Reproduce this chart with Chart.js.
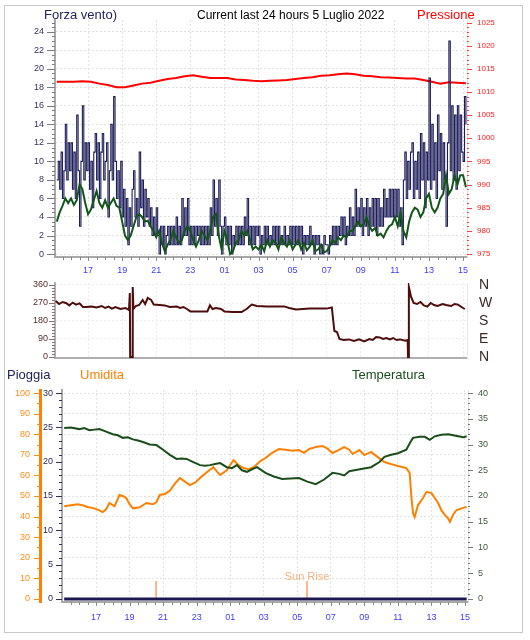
<!DOCTYPE html>
<html>
<head>
<meta charset="utf-8">
<script src="https://cdn.jsdelivr.net/npm/chart.js@4"></script>
<style>
body { margin: 0; background: #fff; font-family: "Liberation Sans", Arial, sans-serif; }
#wrap { position: relative; width: 530px; height: 640px; }
#frame { position: absolute; left: 4px; top: 5px; width: 517px; height: 626px; border: 1px solid #c8c8c8; }
canvas { position: absolute; left: 0; }
.lbl { position: absolute; white-space: nowrap; font-size: 13px; line-height: 15px; z-index: 2; }
</style>
</head>
<body>
<div id="wrap">
  <div id="frame"></div>
  <canvas id="c1" width="530" height="276" style="top:0"></canvas>
  <canvas id="c2" width="530" height="90" style="top:276px"></canvas>
  <canvas id="c3" width="530" height="250" style="top:380px"></canvas>
  <div class="lbl" style="left:44px;top:7px;color:#1e1e5a">Forza vento)</div>
  <div class="lbl" style="left:197px;top:8px;color:#000;font-size:12px">Current last 24 hours 5 Luglio 2022</div>
  <div class="lbl" style="left:417px;top:7px;color:#ff0000">Pressione</div>
  <div class="lbl" style="left:7px;top:367px;color:#1e1e5a">Pioggia</div>
  <div class="lbl" style="left:80px;top:367px;color:#ff8000">Umidita</div>
  <div class="lbl" style="left:352px;top:367px;color:#1a4d1a">Temperatura</div>
</div>
<script>
// hours are counted from midnight of 4 July (25 = 01 of 5 July)
const hourTicks = [17, 19, 21, 23, 25, 27, 29, 31, 33, 35, 37, 39];

// wind gusts, one sample every 5 minutes from 15:10
const gustStart = 15 + 10 / 60;
const gustStep = 5 / 60;
const gust = [
    8, 10, 7, 11, 6, 9, 14, 8, 12, 9,
    12, 7, 11, 6, 15, 9, 3, 10, 16, 8, 12, 9,
    12, 7, 10, 5, 11, 13, 8, 12, 6, 11, 13, 8,
    10, 12, 4, 9, 14, 8, 17, 10, 6, 9, 5, 10,
    4, 7, 3, 6, 1, 5, 3, 7, 9, 4, 6, 3,
    11, 5, 8, 3, 7, 4, 6, 3, 5, 2, 4, 2,
    5, 2, 0, 3, 1, 3, 0, 2, 3, 1, 3, 1,
    3, 1, 4, 1, 3, 1, 6, 2, 5, 2, 6, 1,
    3, 1, 3, 1, 3, 2, 3, 1, 3, 1, 3, 1,
    3, 1, 5, 2, 8, 3, 6, 2, 8, 3, 0, 3,
    4, 1, 3, 1, 3, 0, 2, 1, 3, 1, 3, 1,
    3, 1, 4, 2, 6, 1, 3, 1, 3, 1, 3, 2,
    3, 0, 2, 1, 3, 1, 3, 1, 2, 1, 3, 1,
    3, 1, 3, 1, 2, 1, 3, 1, 2, 1, 3, 1,
    3, 1, 3, 1, 3, 1, 3, 0, 2, 1, 2, 1,
    3, 1, 2, 0, 2, 1, 2, 0, 1, 0, 2, 1,
    1, 0, 2, 1, 3, 1, 3, 1, 3, 2, 4, 2,
    4, 1, 3, 2, 5, 2, 4, 2, 7, 3, 5, 3,
    6, 2, 5, 3, 6, 2, 5, 3, 6, 3, 6, 2,
    6, 3, 5, 3, 7, 4, 6, 4, 7, 4, 7, 4,
    7, 4, 7, 3, 5, 1, 8, 11, 6, 10, 7, 11,
    12, 6, 10, 7, 11, 6, 13, 8, 12, 5, 11, 8,
    19, 7, 14, 8, 12, 6, 15, 9, 13, 7, 12, 8,
    3, 12, 23, 9, 16, 8, 15, 7, 16, 9, 15, 11,
    10, 17, 14
];

// average wind, every 10 minutes from 15:10
const avgStart = 15 + 10 / 60;
const avgStep = 10 / 60;
const avgWind = [
    3.5, 4.5, 5.2, 6, 5.5,
    6, 5.3, 5.8, 7.5, 7, 5.5,
    4.3, 4.8, 5.8, 6.8, 5.5, 5,
    5.8, 5, 5.5, 6, 5.2, 5,
    3.5, 2, 1.5, 2, 3, 4,
    4.3, 4, 3.5, 3.6, 3, 2.5,
    1.8, 2.5, 1.2, 0.3, 1, 1.5,
    2.5, 1.8, 1.2, 1.5, 2.5, 3,
    2.5, 1.5, 0.8, 1.5, 2.5, 2,
    1.5, 2.5, 4, 4.3, 2, 0.5,
    2.5, 1.5, 0, 0.3, 1.2, 1.5,
    2.5, 2, 2.5, 1.5, 0.5, 0.8,
    0.5, 1, 0.3, 1.5, 0.8, 1.5,
    1.2, 0.5, 1.8, 1.2, 0.8, 1.5,
    0.5, 1, 1.5, 0.5, 1.2, 0.4,
    0.8, 1.5, 0.3, 0.5, 1, 0.2,
    0.3, 0.8, 1.5, 1.2, 1.8, 1.5,
    2, 1.8, 2.5, 2.5, 3, 3.5,
    3, 3.2, 4, 3, 2.5, 2.8,
    2, 2.2, 1.8, 2.5, 3, 3.2,
    4, 3, 4.5, 2.5, 1.8, 3.5,
    4.5, 5, 4.8, 4, 4.5, 6,
    6.5, 5, 4.5, 5, 6, 6.5,
    8.5, 6.5, 7, 8.5, 7.5, 8.5,
    8.5, 7.2
];

// pressure, every 30 minutes from 15:10
const pressStart = 15 + 10 / 60;
const pressStep = 0.5;
const pressure = [
    1012.2, 1012.2, 1012.2, 1012.3, 1012.2, 1011.8, 1011.5, 1011.0, 1011.0, 1011.4,
    1011.8, 1012.0, 1012.4, 1012.8, 1013.0, 1013.4, 1013.6, 1013.3, 1013.0, 1013.0,
    1013.0, 1012.7, 1012.6, 1012.4, 1012.3, 1012.4, 1012.5, 1012.6, 1012.8, 1013.0,
    1013.2, 1013.5, 1013.6, 1013.8, 1014.0, 1013.8, 1013.5, 1013.4, 1013.2, 1013.1,
    1013.0, 1012.9, 1012.9, 1012.6, 1012.2, 1011.8, 1012.1, 1012.0, 1011.9
];

// wind direction
const dirTimes = [
    15.1, 15.3, 15.5, 15.7, 15.9, 16.1, 16.3, 16.5, 16.7, 16.9,
    17.2, 17.5, 17.8, 18.0, 18.2, 18.4, 18.6, 18.9, 19.2, 19.4,
    19.45, 19.47, 19.6, 19.62, 19.66, 19.8, 20.0, 20.2, 20.35, 20.5,
    20.7, 20.85, 21.2, 21.5, 21.8, 22.2, 22.4, 22.6, 22.8, 23.0,
    23.5, 24.0, 24.15, 24.3, 24.5, 24.8, 25.0, 25.5, 26.0, 26.3,
    26.6, 26.9, 27.5, 28.0, 28.5, 28.8, 29.2, 29.6, 30.0, 30.5,
    31.0, 31.3, 31.45, 31.6, 31.75, 32.0, 32.3, 32.6, 32.9, 33.2,
    33.5, 33.7, 33.9, 34.1, 34.3, 34.5, 34.7, 34.9, 35.1, 35.3,
    35.6, 35.75, 35.77, 35.82, 35.95, 36.1, 36.3, 36.5, 36.7, 36.9,
    37.1, 37.3, 37.5, 37.8, 38.0, 38.3, 38.5, 38.7, 39.0, 39.1
];
const dirValues = [
    280, 265, 275, 270, 258, 272, 262, 268, 250, 250,
    252, 248, 255, 245, 252, 242, 250, 240, 245, 235,
    320, 0, 0, 350, 240, 255, 260, 285, 265, 295,
    285, 262, 260, 258, 250, 252, 245, 250, 240, 228,
    228, 228, 258, 240, 245, 240, 228, 225, 225, 240,
    262, 255, 253, 253, 253, 245, 238, 240, 242, 242,
    242, 248, 130, 125, 90, 85, 88, 80, 88, 78,
    90, 85, 100, 98, 90, 95, 88, 95, 85, 88,
    82, 85, 0, 350, 300, 270, 265, 275, 258, 252,
    270, 260, 255, 265, 260, 255, 265, 262, 245, 240
];
const dirLetters = ['N', 'E', 'S', 'W', 'N'];

// temperature and humidity
const tempTimes = [
    15.1, 15.5, 16.0, 16.3, 16.6, 16.9, 17.2, 17.6, 18.0, 18.3,
    18.6, 18.9, 19.2, 19.5, 19.8, 20.2, 20.6, 21.0, 21.4, 21.8,
    22.1, 22.4, 22.8, 23.2, 23.5, 23.8, 24.1, 24.4, 24.8, 25.1,
    25.4, 25.7, 26.0, 26.3, 26.6, 27.1, 27.6, 28.1, 28.6, 29.1,
    29.6, 30.1, 30.6, 31.1, 31.5, 31.8, 32.1, 32.4, 32.9, 33.4,
    33.9, 34.2, 34.6, 35.0, 35.5, 35.75, 35.9, 36.3, 36.6, 36.9,
    37.2, 37.6, 38.0, 38.3, 38.6, 38.9, 39.1
];
const temperature = [
    33.2, 33.3, 33.0, 33.2, 32.8, 32.9, 33.0, 32.5, 32.0, 31.8,
    31.3, 31.4, 31.0, 30.8, 30.5, 30.0, 29.9, 29.0, 28.0, 27.2,
    27.3, 27.2, 26.6, 26.0, 25.9, 26.0, 26.2, 26.4, 25.6, 25.4,
    26.0, 25.0, 24.7, 25.2, 25.6, 24.5, 23.8, 23.3, 23.4, 23.5,
    22.8, 22.3, 23.2, 24.5, 24.3, 24.0, 24.8, 25.0, 25.3, 25.6,
    26.6, 27.6, 28.0, 28.3, 29.0, 30.5, 31.3, 31.5, 31.5, 30.9,
    31.6, 31.9, 32.0, 31.8, 31.6, 31.4, 31.6
];
const humTimes = [
    15.1, 15.5, 15.9, 16.2, 16.5, 16.9, 17.2, 17.4, 17.6, 17.8,
    18.1, 18.4, 18.6, 18.8, 19.0, 19.2, 19.6, 20.0, 20.4, 20.6,
    20.8, 21.1, 21.4, 21.7, 22.0, 22.3, 22.6, 22.9, 23.2, 23.6,
    24.0, 24.2, 24.4, 24.8, 25.2, 25.5, 25.8, 26.1, 26.4, 26.8,
    27.1, 27.5, 27.9, 28.3, 28.7, 29.1, 29.4, 29.7, 30.1, 30.5,
    30.8, 31.1, 31.4, 31.8, 32.1, 32.3, 32.7, 33.0, 33.4, 33.8,
    34.2, 34.6, 35.0, 35.5, 35.7, 35.8, 35.9, 36.0, 36.2, 36.5,
    36.7, 37.0, 37.2, 37.4, 37.6, 37.8, 38.0, 38.1, 38.3, 38.5,
    38.8, 39.1
];
const humidity = [
    45, 45.5, 46, 45.5, 44.7, 44, 43, 42.2, 43.5, 46.6,
    45, 50.5, 50, 49, 46, 44, 44.5, 46.6, 46, 47,
    50.5, 51, 52.5, 56, 58.7, 57, 55.3, 56.5, 58.7, 61.5,
    64, 62, 60.2, 62.5, 67.5, 65, 63.6, 63, 64, 67,
    68.4, 71, 72.8, 72.5, 72, 72.3, 71, 72.8, 73.8, 74.3,
    73, 70.9, 72, 73.8, 72.5, 70.4, 72.3, 69.9, 71.4, 68.9,
    66.5, 65.5, 64.6, 63.6, 61.2, 50, 41.7, 39.8, 45.6, 49,
    52, 51.4, 49, 46.6, 43, 40.8, 39, 37.4, 41, 43.2,
    44, 44.7
];

// rain (none) and sunset / sunrise marks
const rainTimes = [15.1, 17, 19, 21, 23, 25, 27, 29, 31, 33, 35, 37, 39.1];
const rain = [0, 0, 0, 0, 0, 0, 0, 0, 0, 0, 0, 0, 0];
const sunTimes = [20.58, 29.58];
const sunMarkHeight = 2.6;

function hourLabel(v) {
    const h = Math.round(v) % 24;
    return (h < 10 ? '0' : '') + h;
}

function plain(v) {
    return String(v);
}

function pairs(times, values) {
    return values.map((v, i) => ({ x: times[i], y: v }));
}

function stepSeries(start, step, values) {
    return values.map((v, i) => ({ x: start + i * step, y: v }));
}

function fixedTicks(list) {
    return s => { s.ticks = list.map(v => ({ value: v })); };
}

// fixed axis width, and no extra room kept for the end labels
function fitWidth(w) {
    return s => { s.width = w; s.paddingTop = 0; s.paddingBottom = 0; };
}

// small tick marks along the axes
const minorTicks = {
    id: 'minorTicks',
    afterDraw(chart, args, opts) {
        const ctx = chart.ctx;
        (opts.list || []).forEach(m => {
            const s = chart.scales[m.axis];
            const base = m.base || 0;
            ctx.save();
            ctx.strokeStyle = m.color;
            ctx.lineWidth = 1;
            ctx.beginPath();
            for (let v = m.from; v <= m.to + 1e-9; v += m.step) {
                const r = (v - base) / m.major;
                const len = Math.abs(r - Math.round(r)) < 1e-6 ? m.majorLen : m.minorLen;
                const p = Math.round(s.getPixelForValue(v)) + 0.5;
                if (s.isHorizontal()) {
                    ctx.moveTo(p, s.top);
                    ctx.lineTo(p, s.top + len);
                } else if (s.position === 'left') {
                    ctx.moveTo(s.right, p);
                    ctx.lineTo(s.right - len, p);
                } else {
                    ctx.moveTo(s.left, p);
                    ctx.lineTo(s.left + len, p);
                }
            }
            ctx.stroke();
            ctx.restore();
        });
    }
};

const tickFont = { family: 'Liberation Sans', size: 9 };
const gridStyle = { color: '#e2e2e2', drawTicks: false };

// top panel: wind speed and pressure
new Chart(document.getElementById('c1'), {
    type: 'line',
    data: {
        datasets: [
            { data: stepSeries(avgStart, avgStep, avgWind), yAxisID: 'y', borderColor: '#14551a', borderWidth: 2 },
            { data: stepSeries(gustStart, gustStep, gust), yAxisID: 'y', borderColor: '#1e1e5a', borderWidth: 1.1, stepped: true },
            { data: stepSeries(pressStart, pressStep, pressure), yAxisID: 'yP', borderColor: '#ff0000', borderWidth: 2 }
        ]
    },
    options: {
        responsive: false,
        animation: false,
        layout: { padding: { top: 20 } },
        elements: { point: { radius: 0 }, line: { tension: 0 } },
        plugins: {
            legend: { display: false },
            tooltip: { enabled: false },
            minorTicks: {
                list: [
                    { axis: 'y', from: 0, to: 25, step: 0.5, major: 2, majorLen: 8, minorLen: 3, color: '#7a7a8a' },
                    { axis: 'yP', from: 975, to: 1025, step: 1, major: 5, majorLen: 5, minorLen: 2, color: '#ff4040' },
                    { axis: 'x', from: 15.5, to: 39, step: 0.5, base: 17, major: 2, majorLen: 4, minorLen: 3, color: '#8a8a8a' }
                ]
            }
        },
        scales: {
            x: {
                type: 'linear', min: 15.06, max: 39.23,
                afterBuildTicks: fixedTicks(hourTicks),
                afterFit: s => { s.height = 19; },
                ticks: { callback: hourLabel, color: '#3c3cff', font: tickFont, padding: 8, maxRotation: 0, autoSkip: false },
                grid: gridStyle,
                border: { color: '#a8a8a8', width: 2, dash: [2, 2] }
            },
            y: {
                position: 'left', min: -0.32, max: 25.27,
                afterBuildTicks: fixedTicks([0, 2, 4, 6, 8, 10, 12, 14, 16, 18, 20, 22, 24]),
                afterFit: fitWidth(55),
                ticks: { callback: plain, color: '#33335a', font: tickFont, padding: 11, autoSkip: false },
                grid: gridStyle,
                border: { color: '#a8a8a8', width: 2, dash: [2, 2] }
            },
            yP: {
                position: 'right', min: 974.36, max: 1025.54,
                afterBuildTicks: fixedTicks([975, 980, 985, 990, 995, 1000, 1005, 1010, 1015, 1020, 1025]),
                afterFit: fitWidth(63),
                ticks: { callback: plain, color: '#ff2020', font: { family: 'Liberation Sans', size: 8 }, padding: 10, autoSkip: false },
                grid: { display: false, drawTicks: false },
                border: { color: '#e0e0e0', width: 1 }
            }
        }
    },
    plugins: [minorTicks]
});

// middle panel: wind direction
new Chart(document.getElementById('c2'), {
    type: 'line',
    data: {
        datasets: [
            { data: pairs(dirTimes, dirValues), yAxisID: 'yd', borderColor: '#4d0d0d', borderWidth: 2 }
        ]
    },
    options: {
        responsive: false,
        animation: false,
        layout: { padding: { top: 7 } },
        elements: { point: { radius: 0 }, line: { tension: 0 } },
        plugins: {
            legend: { display: false },
            tooltip: { enabled: false },
            minorTicks: {
                list: [
                    { axis: 'yd', from: 0, to: 360, step: 15, major: 90, majorLen: 6, minorLen: 3, color: '#8a7070' }
                ]
            }
        },
        scales: {
            x: {
                type: 'linear', min: 15.06, max: 39.23,
                afterBuildTicks: fixedTicks(hourTicks),
                afterFit: s => { s.height = 8; },
                ticks: { display: false },
                grid: { color: '#ececec', drawTicks: false },
                border: { color: '#b0b0b0', width: 2, dash: [2, 2] }
            },
            yd: {
                position: 'left', min: -5, max: 370,
                afterBuildTicks: fixedTicks([0, 90, 180, 270, 360]),
                afterFit: fitWidth(55),
                ticks: { callback: plain, color: '#5a2a2a', font: tickFont, padding: 7, autoSkip: false },
                grid: { color: '#ececec', drawTicks: false },
                border: { color: '#b0b0b0', width: 2, dash: [2, 2] }
            },
            yl: {
                position: 'right', min: -5, max: 370,
                afterBuildTicks: fixedTicks([0, 90, 180, 270, 360]),
                afterFit: fitWidth(63),
                ticks: { callback: v => dirLetters[v / 90], color: '#3c2626', font: { family: 'Liberation Sans', size: 14 }, padding: 12, autoSkip: false },
                grid: { display: false, drawTicks: false },
                border: { color: '#e6e6e6', width: 1 }
            }
        }
    },
    plugins: [minorTicks]
});

// sunrise label
const sunLabel = {
    id: 'sunLabel',
    afterDatasetsDraw(chart) {
        const ctx = chart.ctx;
        const x = chart.scales.x.getPixelForValue(sunTimes[1]);
        const y = chart.scales.yr.getPixelForValue(sunMarkHeight);
        ctx.save();
        ctx.font = '11px "Liberation Sans"';
        ctx.fillStyle = '#f7b07c';
        ctx.textAlign = 'center';
        ctx.textBaseline = 'bottom';
        ctx.fillText('Sun Rise', x, y + 1);
        ctx.restore();
    }
};

// bottom panel: rain, humidity, temperature
new Chart(document.getElementById('c3'), {
    type: 'line',
    data: {
        datasets: [
            { data: pairs(tempTimes, temperature), yAxisID: 'yt', borderColor: '#1a4d1a', borderWidth: 2 },
            { data: pairs(humTimes, humidity), yAxisID: 'yh', borderColor: '#ff8000', borderWidth: 2 },
            { data: pairs(rainTimes, rain), yAxisID: 'yr', borderColor: '#1a1a50', borderWidth: 3 },
            { data: [{ x: sunTimes[0], y: 0 }, { x: sunTimes[0], y: sunMarkHeight }], yAxisID: 'yr', borderColor: '#ffa060', borderWidth: 1.5 },
            { data: [{ x: sunTimes[1], y: 0 }, { x: sunTimes[1], y: sunMarkHeight }], yAxisID: 'yr', borderColor: '#ffa060', borderWidth: 1.5 }
        ]
    },
    options: {
        responsive: false,
        animation: false,
        layout: { padding: { top: 10 } },
        elements: { point: { radius: 0 }, line: { tension: 0 } },
        plugins: {
            legend: { display: false },
            tooltip: { enabled: false },
            minorTicks: {
                list: [
                    { axis: 'yh', from: 0, to: 100, step: 5, major: 10, majorLen: 6, minorLen: 3, color: '#ff8c1a' },
                    { axis: 'yr', from: 0, to: 30, step: 1, major: 5, majorLen: 6, minorLen: 3, color: '#303060' },
                    { axis: 'yt', from: 0, to: 40, step: 1, major: 5, majorLen: 5, minorLen: 2, color: '#708070' },
                    { axis: 'x', from: 15.5, to: 39, step: 0.5, base: 17, major: 2, majorLen: 4, minorLen: 3, color: '#8a8a8a' }
                ]
            }
        },
        scales: {
            x: {
                type: 'linear', min: 14.97, max: 39.18,
                afterBuildTicks: fixedTicks(hourTicks),
                afterFit: s => { s.height = 28; },
                ticks: { callback: hourLabel, color: '#3c3cff', font: tickFont, padding: 10, maxRotation: 0, autoSkip: false },
                grid: gridStyle,
                border: { color: '#a8a8a8', width: 2, dash: [2, 2] }
            },
            yh: {
                position: 'left', weight: 1, min: -1.5, max: 101.5,
                afterBuildTicks: fixedTicks([0, 10, 20, 30, 40, 50, 60, 70, 80, 90, 100]),
                afterFit: fitWidth(40),
                ticks: { callback: plain, color: '#ff8c1a', font: tickFont, padding: 10, autoSkip: false },
                grid: { color: '#e2e2e2', drawTicks: false },
                border: { color: '#ff8000', width: 3, dash: [2, 2] }
            },
            yr: {
                position: 'left', weight: 0, min: -0.45, max: 30.45,
                afterBuildTicks: fixedTicks([0, 5, 10, 15, 20, 25, 30]),
                afterFit: fitWidth(22),
                ticks: { callback: plain, color: '#2a2a55', font: tickFont, padding: 9, autoSkip: false },
                grid: { display: false, drawTicks: false },
                border: { color: '#a8a8a8', width: 2 }
            },
            yt: {
                position: 'right', min: -0.6, max: 40.6,
                afterBuildTicks: fixedTicks([0, 5, 10, 15, 20, 25, 30, 35, 40]),
                afterFit: fitWidth(62),
                ticks: { callback: plain, color: '#3d5a3d', font: tickFont, padding: 10, autoSkip: false },
                grid: { display: false, drawTicks: false },
                border: { color: '#e0e0e0', width: 1 }
            }
        }
    },
    plugins: [minorTicks, sunLabel]
});
</script>
</body>
</html>
